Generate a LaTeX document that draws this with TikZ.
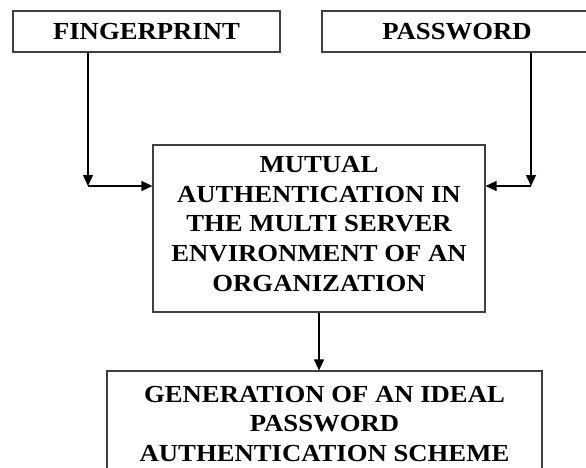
\documentclass[tikz,border=0pt]{standalone}
\usepackage{fontspec}
\setmainfont{Liberation Serif}[FakeStretch=1.09]
\usetikzlibrary{arrows.meta}
\begin{document}
\begin{tikzpicture}[x=1pt,y=1pt,
  box/.style={draw=black!75, line width=1.1pt, rectangle, inner sep=0pt},
  txt/.style={inner sep=0pt, align=center, font=\fontsize{24.5}{29.8}\selectfont\bfseries},
  conn/.style={line width=1.3pt, -{Triangle[length=11pt,width=10pt]}}]
\useasboundingbox (0,0) rectangle (586,-468);
\begin{scope}
\clip (0,0) rectangle (586,-468);
\node[box, minimum width=267pt, minimum height=41pt] (fp) at (146.5,-31.5) {};
\node[txt] (fpt) at (146.5,-32) {FINGERPRINT};
\node[box, minimum width=270pt, minimum height=41pt] (pw) at (457,-31.5) {};
\node[txt] (pwt) at (457,-32) {PASSWORD};
\node[box, minimum width=332pt, minimum height=167pt] (mid) at (319,-228.5) {};
\node[txt] (midt) at (319,-224) {MUTUAL\\AUTHENTICATION IN\\THE MULTI SERVER\\ENVIRONMENT OF AN\\ORGANIZATION};
\node[box, minimum width=435pt, minimum height=107pt] (gen) at (324.5,-424.5) {};
\node[txt] (gent) at (324.5,-424) {GENERATION OF AN IDEAL\\PASSWORD\\AUTHENTICATION SCHEME};
\end{scope}
\coordinate (c1) at (88,-186);
\coordinate (c2) at (531,-186);
\draw[conn] (fp.south -| c1) -- (c1);
\draw[conn] (c1) -- (c1 -| mid.west);
\draw[conn] (pw.south -| c2) -- (c2);
\draw[conn] (c2) -- (c2 -| mid.east);
\draw[conn] (mid.south) -- (mid.south |- gen.north);
\end{tikzpicture}
\end{document}
